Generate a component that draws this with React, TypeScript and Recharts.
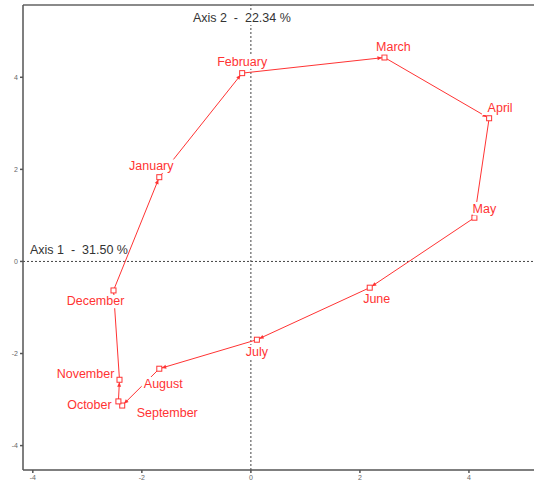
import React from 'react';
import {
    ScatterChart,
    Scatter,
    XAxis,
    YAxis,
    ReferenceLine,
} from 'recharts';

// Month scores on the first two factorial axes
const months = [
    'January', 'February', 'March', 'April', 'May', 'June',
    'July', 'August', 'September', 'October', 'November', 'December',
];
const axis1Scores = [-1.68, -0.16, 2.45, 4.37, 4.1, 2.18, 0.11, -1.68, -2.36, -2.43, -2.41, -2.52];
const axis2Scores = [1.83, 4.09, 4.43, 3.11, 0.95, -0.57, -1.7, -2.33, -3.13, -3.04, -2.57, -0.63];

const axis1Label = 'Axis 1  -  31.50 %';
const axis2Label = 'Axis 2  -  22.34 %';
const xTicks = [-4, -2, 0, 2, 4];
const yTicks = [-4, -2, 0, 2, 4];

const points = months.map((month, i) => ({ month, x: axis1Scores[i], y: axis2Scores[i] }));

// where each month name sits relative to its point (px)
const LABEL_OFFSETS: Record<string, [number, number]> = {
    January: [-8, -11],
    February: [0, -11],
    March: [9, -10],
    April: [11, -10],
    May: [10, -9],
    June: [7, 11],
    July: [0, 12],
    August: [4, 15],
    September: [45, 7],
    October: [-29, 4],
    November: [-34, -6],
    December: [-18, 11],
};

const RED = '#ff3333';
const LABEL_SIZE = 12.5;

// closed trajectory: one arrow from each month to the next
const renderTrajectory = (props: any) => {
    const pts: Array<{ x: number; y: number }> = props.points || [];
    const n = pts.length;
    return (
        <g>
            {pts.map((p, i) => {
                const q = pts[(i + 1) % n];
                const dx = q.x - p.x;
                const dy = q.y - p.y;
                const len = Math.hypot(dx, dy) || 1;
                const ux = dx / len;
                const uy = dy / len;
                const tipX = q.x - ux * 2.5;
                const tipY = q.y - uy * 2.5;
                const baseX = tipX - ux * 4.5;
                const baseY = tipY - uy * 4.5;
                const head = `${tipX},${tipY} ${baseX - uy * 2},${baseY + ux * 2} ${baseX + uy * 2},${baseY - ux * 2}`;
                return (
                    <g key={`seg-${i}`}>
                        <line x1={p.x} y1={p.y} x2={tipX} y2={tipY} stroke={RED} strokeWidth={1} />
                        <polygon points={head} fill={RED} stroke="none" />
                    </g>
                );
            })}
        </g>
    );
};

const renderSquare = (props: any) => {
    const { cx, cy } = props;
    return <rect x={cx - 2.5} y={cy - 2.5} width={5} height={5} fill="white" stroke={RED} strokeWidth={1} />;
};

const renderMonthLabel = (props: any) => {
    const { cx, cy, payload } = props;
    const [ox, oy] = LABEL_OFFSETS[payload.month] || [0, 0];
    const w = payload.month.length * LABEL_SIZE * 0.55 + 2;
    const h = LABEL_SIZE + 1;
    return (
        <g>
            <rect x={cx + ox - w / 2} y={cy + oy - h / 2} width={w} height={h} fill="white" />
            <text
                x={cx + ox}
                y={cy + oy}
                textAnchor="middle"
                dominantBaseline="central"
                fontSize={LABEL_SIZE}
                fontFamily="Liberation Sans, Arial, sans-serif"
                fill={RED}
            >
                {payload.month}
            </text>
        </g>
    );
};

const AxisTitle = ({ text, x, y, boxed }: { text: string; x: number; y: number; boxed?: boolean }) => {
    const w = text.length * 6.1;
    return (
        <g>
            {boxed && <rect x={x - 2} y={y - 8} width={w + 4} height={15} fill="white" />}
            <text
                x={x}
                y={y}
                dominantBaseline="central"
                fontSize={12.5}
                fontFamily="Liberation Sans, Arial, sans-serif"
                fill="#333"
                style={{ whiteSpace: 'pre' }}
            >
                {text}
            </text>
        </g>
    );
};

const tickStyle = { fill: '#666', fontSize: 7, fontFamily: 'Liberation Sans, Arial, sans-serif' };

export default function App() {
    return (
        <div style={{ position: 'absolute', left: 0, top: 0, width: 534, height: 488, overflow: 'hidden', background: 'white' }}>
            <ScatterChart width={560} height={488} margin={{ top: 5, right: 0, bottom: 0, left: 0 }}>
                <XAxis
                    type="number"
                    dataKey="x"
                    domain={[-4.18, 5.67]}
                    ticks={xTicks}
                    allowDataOverflow
                    height={18}
                    tickSize={3}
                    tick={tickStyle}
                    stroke="#555"
                    strokeWidth={1.5}
                />
                <YAxis
                    type="number"
                    dataKey="y"
                    domain={[-4.53, 5.57]}
                    ticks={yTicks}
                    allowDataOverflow
                    width={23}
                    tickSize={3}
                    tick={tickStyle}
                    stroke="#555"
                    strokeWidth={1.5}
                />
                <ReferenceLine y={5.57} stroke="#8a8a8a" strokeWidth={2} />
                <ReferenceLine
                    y={0}
                    stroke="#444"
                    strokeDasharray="2 2"
                    label={(p: any) => <AxisTitle text={axis1Label} x={p.viewBox.x + 7} y={p.viewBox.y - 11} />}
                />
                <ReferenceLine
                    x={0}
                    stroke="#444"
                    strokeDasharray="2 2"
                    label={(p: any) => <AxisTitle boxed text={axis2Label} x={p.viewBox.x - 58} y={p.viewBox.y + 13} />}
                />
                <Scatter
                    data={points}
                    fill={RED}
                    line={renderTrajectory}
                    shape={renderSquare}
                    isAnimationActive={false}
                />
                <Scatter data={points} shape={renderMonthLabel} isAnimationActive={false} />
            </ScatterChart>
        </div>
    );
}
